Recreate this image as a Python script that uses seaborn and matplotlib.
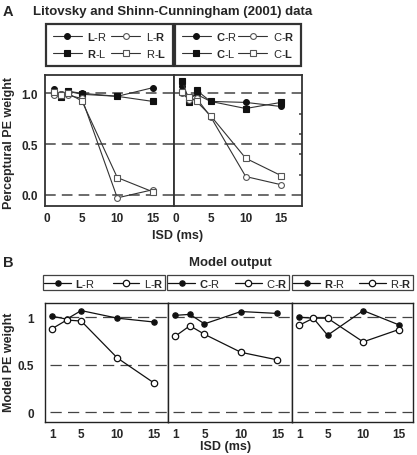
import matplotlib
matplotlib.use("Agg")
import matplotlib.pyplot as plt
from matplotlib.lines import Line2D
import seaborn as sns
import pandas as pd

sns.set_theme(style="white")
plt.rcParams['font.family'] = ['Liberation Sans', 'DejaVu Sans']
plt.rcParams['font.weight'] = 'normal'
plt.rcParams['mathtext.fontset'] = 'custom'
plt.rcParams['mathtext.rm'] = 'Liberation Sans'
plt.rcParams['mathtext.bf'] = 'Liberation Sans:bold'

# ---------------- data ----------------
isd_a = [1, 2, 3, 5, 10, 15]
# panel A, left (lateral)
lr_filled = [1.04, 0.99, 1.02, 1.00, 0.97, 1.055]
rl_filled = [1.00, 0.96, 1.02, 0.99, 0.97, 0.92]
lr_open = [0.98, 0.99, 0.98, 0.95, -0.03, 0.05]
rl_open = [1.01, 0.98, 1.00, 0.925, 0.17, 0.03]
# panel A, right (center)
cr_filled = [1.07, 0.95, 0.99, 0.92, 0.91, 0.87]
cl_filled = [1.12, 0.91, 1.03, 0.92, 0.85, 0.91]
cr_open = [1.00, 0.93, 0.95, 0.77, 0.18, 0.10]
cl_open = [1.01, 0.96, 0.92, 0.78, 0.36, 0.19]

isd_b = [1, 3, 5, 10, 15]
m_lr_filled = [1.01, 0.98, 1.07, 0.99, 0.95]
m_lr_open = [0.88, 0.97, 0.96, 0.57, 0.31]
m_cr_filled = [1.02, 1.03, 0.93, 1.06, 1.04]
m_cr_open = [0.80, 0.91, 0.82, 0.63, 0.55]
m_rr_filled = [1.00, 0.99, 0.81, 1.07, 0.92]
m_rr_open = [0.915, 0.99, 0.99, 0.74, 0.87]

labels_a1 = [r'$\mathbf{L}$-R', r'$\mathbf{R}$-L', r'L-$\mathbf{R}$', r'R-$\mathbf{L}$']
labels_a2 = [r'$\mathbf{C}$-R', r'$\mathbf{C}$-L', r'C-$\mathbf{R}$', r'C-$\mathbf{L}$']
labels_b = [(r'$\mathbf{L}$-R', r'L-$\mathbf{R}$'),
            (r'$\mathbf{C}$-R', r'C-$\mathbf{R}$'),
            (r'$\mathbf{R}$-R', r'R-$\mathbf{R}$')]

W, H = 417, 456
fig = plt.figure(figsize=(W / 100, H / 100), dpi=100)


def fx(px):
    return px / W


def fy(py):
    return 1 - py / H


def axes_px(l, r, t, b):
    return fig.add_axes([fx(l), fy(b), fx(r) - fx(l), fy(t) - fy(b)])


def bold_ticks(ax):
    for t in ax.get_xticklabels() + ax.get_yticklabels():
        t.set_fontweight('bold')


line_c = '#333333'
open_c = '#555555'

# ---------------- panel A ----------------
axA1 = axes_px(45, 174, 76, 207)
axA2 = axes_px(174, 302, 76, 207)

series_a = [
    (axA1, [(lr_filled, 'o', True), (rl_filled, 's', True), (lr_open, 'o', False), (rl_open, 's', False)], labels_a1),
    (axA2, [(cr_filled, 'o', True), (cl_filled, 's', True), (cr_open, 'o', False), (cl_open, 's', False)], labels_a2),
]

for ax, sers, labs in series_a:
    for yv in [0, 0.5, 1.0]:
        ax.axhline(yv, color='#444444', lw=1.1, dashes=(7, 4), zorder=1)
    handles = []
    for (vals, mk, filled), lab in zip(sers, labs):
        df = pd.DataFrame({'isd': isd_a, 'w': vals})
        sns.lineplot(data=df, x='isd', y='w', ax=ax, color=line_c, lw=0.8,
                     marker=mk, markersize=4.2,
                     markerfacecolor=('#111111' if filled else 'white'),
                     markeredgecolor=('#111111' if filled else open_c),
                     markeredgewidth=0.8, zorder=3)
        handles.append(Line2D([], [], color=line_c, lw=0.8, marker=mk, markersize=4.2,
                              markerfacecolor=('#111111' if filled else 'white'),
                              markeredgecolor=('#111111' if filled else open_c),
                              markeredgewidth=0.8))
    ax.set_xlim(-0.2, 18)
    ax.set_ylim(-0.11, 1.18)
    ax.set_xticks([0, 5, 10, 15])
    ax.set_xlabel('')
    ax.set_ylabel('')
    for s in ax.spines.values():
        s.set_color('#333333')
        s.set_linewidth(1.3)
    ax.tick_params(axis='x', labelsize=8.5, length=2, direction='in', pad=4)
    leg = ax.legend(handles=handles, labels=labs, ncol=2, loc='lower left',
                    bbox_to_anchor=(0.01, 1.069, 0.98, 0.3), mode='expand',
                    borderaxespad=0, fontsize=8, frameon=True, fancybox=False,
                    handlelength=2.6, handletextpad=0.5, columnspacing=0.6,
                    borderpad=0.6, labelspacing=0.45)
    leg.get_frame().set_edgecolor('black')
    leg.get_frame().set_linewidth(1.6)

axA1.set_yticks([0, 0.5, 1.0])
axA1.set_yticklabels(['0.0', '0.5', '1.0'])
axA1.tick_params(axis='y', labelsize=8.5, length=0, pad=5)
axA2.yaxis.set_ticks_position('right')
axA2.set_yticks([0.2, 0.4, 0.6, 0.8])
axA2.set_yticklabels([])
axA2.tick_params(axis='y', length=2.5, direction='in', right=True, left=False, color='#555555')
bold_ticks(axA1)
bold_ticks(axA2)

fig.text(fx(3), fy(12), 'A', fontsize=10.5, fontweight='bold', va='center', ha='left')
fig.text(fx(33), fy(12), 'Litovsky and Shinn-Cunningham (2001) data', fontsize=9.5,
         fontweight='bold', va='center', ha='left')
fig.text(fx(9), fy(143), 'Perceptural PE weight', fontsize=9, fontweight='bold',
         rotation=90, va='center', ha='center')
fig.text(fx(178), fy(236), 'ISD (ms)', fontsize=9, fontweight='bold', va='center', ha='center')

# ---------------- panel B ----------------
axB = [axes_px(45, 168, 304, 423), axes_px(168, 292, 304, 423), axes_px(292, 413, 304, 423)]
model_series = [(m_lr_filled, m_lr_open), (m_cr_filled, m_cr_open), (m_rr_filled, m_rr_open)]
leg_x = [(-0.016, 0.99), (-0.008, 0.984), (0.0, 1.0)]

for i, ax in enumerate(axB):
    for yv in [0, 0.5, 1.0]:
        ax.axhline(yv, xmin=0.04, xmax=0.99, color='#444444', lw=0.9, dashes=(9, 5), zorder=1)
    fil, opn = model_series[i]
    handles = []
    for vals, filled in [(fil, True), (opn, False)]:
        df = pd.DataFrame({'isd': isd_b, 'w': vals})
        sns.lineplot(data=df, x='isd', y='w', ax=ax, color='#111111', lw=0.9,
                     marker='o', markersize=(3.8 if filled else 4.6),
                     markerfacecolor=('#111111' if filled else 'white'),
                     markeredgecolor='#111111', markeredgewidth=0.9, zorder=3)
        handles.append(Line2D([], [], color='#111111', lw=0.9, marker='o',
                              markersize=(3.8 if filled else 4.6),
                              markerfacecolor=('#111111' if filled else 'white'),
                              markeredgecolor='#111111', markeredgewidth=0.9))
    ax.set_xlim(0, 17)
    ax.set_ylim(-0.105, 1.15)
    ax.set_xticks([1, 2, 3, 5, 10, 15])
    ax.set_xticklabels(['1', '', '', '5', '10', '15'])
    ax.set_xlabel('')
    ax.set_ylabel('')
    for s in ax.spines.values():
        s.set_color('#222222')
        s.set_linewidth(1.0)
    ax.tick_params(axis='x', labelsize=8.5, length=3, direction='in', pad=4, color='#222222')
    if i == 0:
        ax.set_yticks([0, 0.5, 1.0])
        ax.set_yticklabels(['0', '0.5', '1'])
        ax.tick_params(axis='y', labelsize=8.5, length=0, pad=8)
    else:
        ax.set_yticks([])
    bold_ticks(ax)
    x0, w = leg_x[i]
    leg = ax.legend(handles=handles, labels=list(labels_b[i]), ncol=2, loc='lower left',
                    bbox_to_anchor=(x0, 1.109, w, 0.2), mode='expand',
                    borderaxespad=0, fontsize=8, frameon=True, fancybox=False,
                    handlelength=2.4, handletextpad=0.4, columnspacing=0.5,
                    borderpad=0.12)
    leg.get_frame().set_edgecolor('#111111')
    leg.get_frame().set_linewidth(0.9)

fig.text(fx(3), fy(263), 'B', fontsize=10.5, fontweight='bold', va='center', ha='left')
fig.text(fx(230), fy(263), 'Model output', fontsize=9.5, fontweight='bold', va='center', ha='center')
fig.text(fx(9), fy(362), 'Model PE weight', fontsize=9, fontweight='bold',
         rotation=90, va='center', ha='center')
fig.text(fx(226), fy(447), 'ISD (ms)', fontsize=9, fontweight='bold', va='center', ha='center')

fig.savefig('out.png', dpi=100)
